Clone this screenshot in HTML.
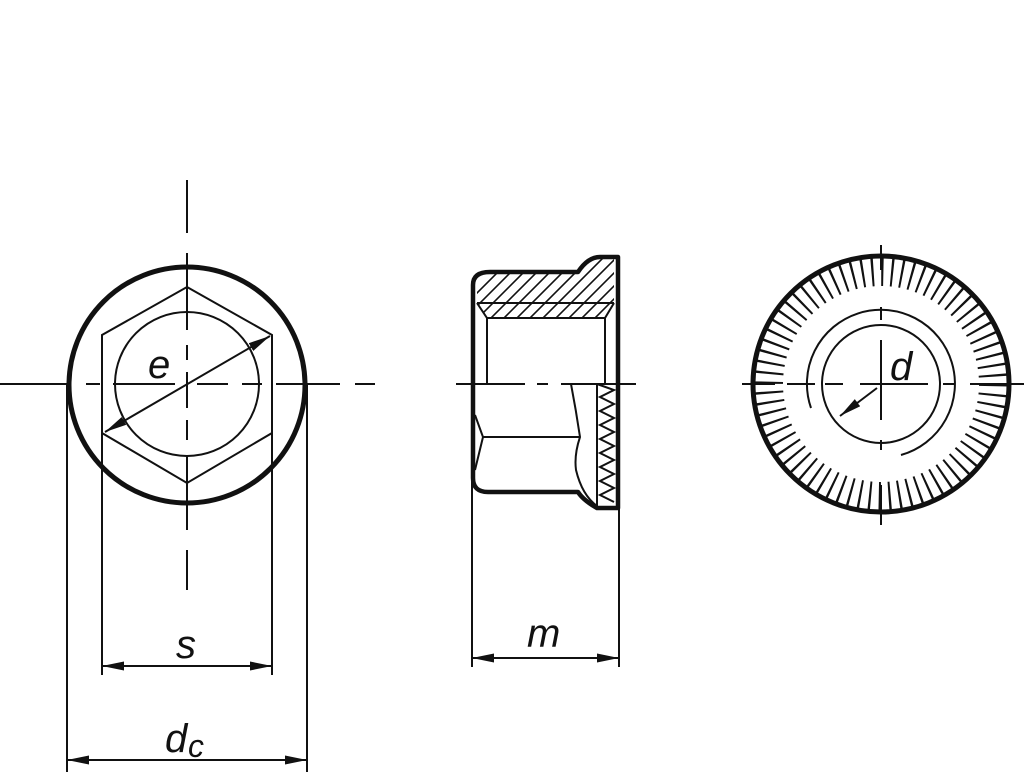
<!DOCTYPE html>
<html><head><style>body{margin:0;background:#fff}svg{display:block}</style></head>
<body>
<svg width="1024" height="775" viewBox="0 0 1024 775" xmlns="http://www.w3.org/2000/svg" fill="none" stroke="#111">
<defs>
<marker id="a" viewBox="0 0 22 9" refX="22" refY="4.5" markerWidth="22" markerHeight="9" markerUnits="userSpaceOnUse" orient="auto-start-reverse"><path d="M0,0L22,4.5L0,9Z" fill="#111" stroke="none"/></marker>
<clipPath id="hc"><path d="M477,303 L477,285 Q477,272 490,272 L578,272 L597,257 L614,257 L614,303Z M477,303 L487,318 L605,318 L614,303Z"/></clipPath>
</defs>
<!-- LEFT VIEW -->
<g stroke-width="2">
<path d="M0,384H67 M86,384H100 M113,384H175 M197,384H228 M242,384H262 M276,384H340 M355,384H375" />
<path d="M187,180V233 M187,253V330 M187,345V360 M187,372V408 M187,420V440 M187,455V530 M187,550V590"/>
<polygon points="187,287 272,335 272,433 187,483 102,433 102,335"/>
<circle cx="187" cy="384" r="72"/>
<line x1="105" y1="432" x2="270" y2="336" marker-start="url(#a)" marker-end="url(#a)"/>
<path d="M67,384V772 M307,384V772 M102,433V675 M272,433V675"/>
<line x1="67" y1="760" x2="307" y2="760" marker-start="url(#a)" marker-end="url(#a)"/>
<line x1="102" y1="666" x2="272" y2="666" marker-start="url(#a)" marker-end="url(#a)"/>
</g>
<circle cx="187" cy="385" r="118" stroke-width="5"/>
<!-- MIDDLE VIEW -->
<g stroke-width="2">
<g clip-path="url(#hc)" stroke-width="1.6">
<path d="M440,330L520,250 M453,330L533,250 M466,330L546,250 M479,330L559,250 M492,330L572,250 M505,330L585,250 M518,330L598,250 M531,330L611,250 M544,330L624,250 M557,330L637,250 M570,330L650,250 M583,330L663,250 M596,330L676,250 M609,330L689,250"/>
</g>
<path d="M477,303H614 M477,303L487,318H605L614,303 M487,318V384 M605,318V384"/>
<path d="M456,384H525 M537,384H548 M561,384H636"/>
<path d="M597,384V506 M597,384 L614,390 L600,397 L614,404 L600,411 L614,418 L600,425 L614,432 L600,439 L614,446 L600,453 L614,460 L600,467 L614,474 L600,481 L614,488 L600,495 L614,502"/>
<path d="M475,415 L483,437 L475,470 M483,437H580 M571,384 Q576,410 580,437 Q574,455 576,470 Q582,495 597,506"/>
<path d="M472,420V667 M619,500V667"/>
<line x1="472" y1="658" x2="619" y2="658" marker-start="url(#a)" marker-end="url(#a)"/>
</g>
<path d="M473,384 V285 Q473,272 490,272 L578,272 Q588,257 600,257 L618,257 V508 H597 Q583,500 578,492 H488 Q473,492 473,478 V384" stroke-width="4.5" stroke-linejoin="round"/>
<!-- RIGHT VIEW -->
<circle cx="881" cy="384" r="112.5" stroke-width="29" stroke-dasharray="2.2 7.618" stroke="#111"/>
<g stroke-width="2">
<path d="M742,384H775 M787,384H815 M825,384H843 M860,384H928 M943,384H955 M970,384H1024"/>
<path d="M881,245V270 M881,307V320 M881,340V420 M881,440V450 M881,485V525"/>
<circle cx="881" cy="384" r="59"/>
<path d="M811,408 A74,74 0 1 1 901,455"/>
<line x1="877" y1="388" x2="840" y2="416" marker-end="url(#a)"/>
</g>
<circle cx="881" cy="384" r="128" stroke-width="5"/>
<g font-family="Liberation Sans, sans-serif" font-style="italic" font-size="40" fill="#111" stroke="none">
<text x="148" y="378">e</text>
<text x="176" y="658">s</text>
<text x="165" y="752">d</text><text x="188" y="757" font-size="32">c</text>
<text x="527" y="647">m</text>
<text x="890" y="380">d</text>
</g>
</svg>
</body></html>
